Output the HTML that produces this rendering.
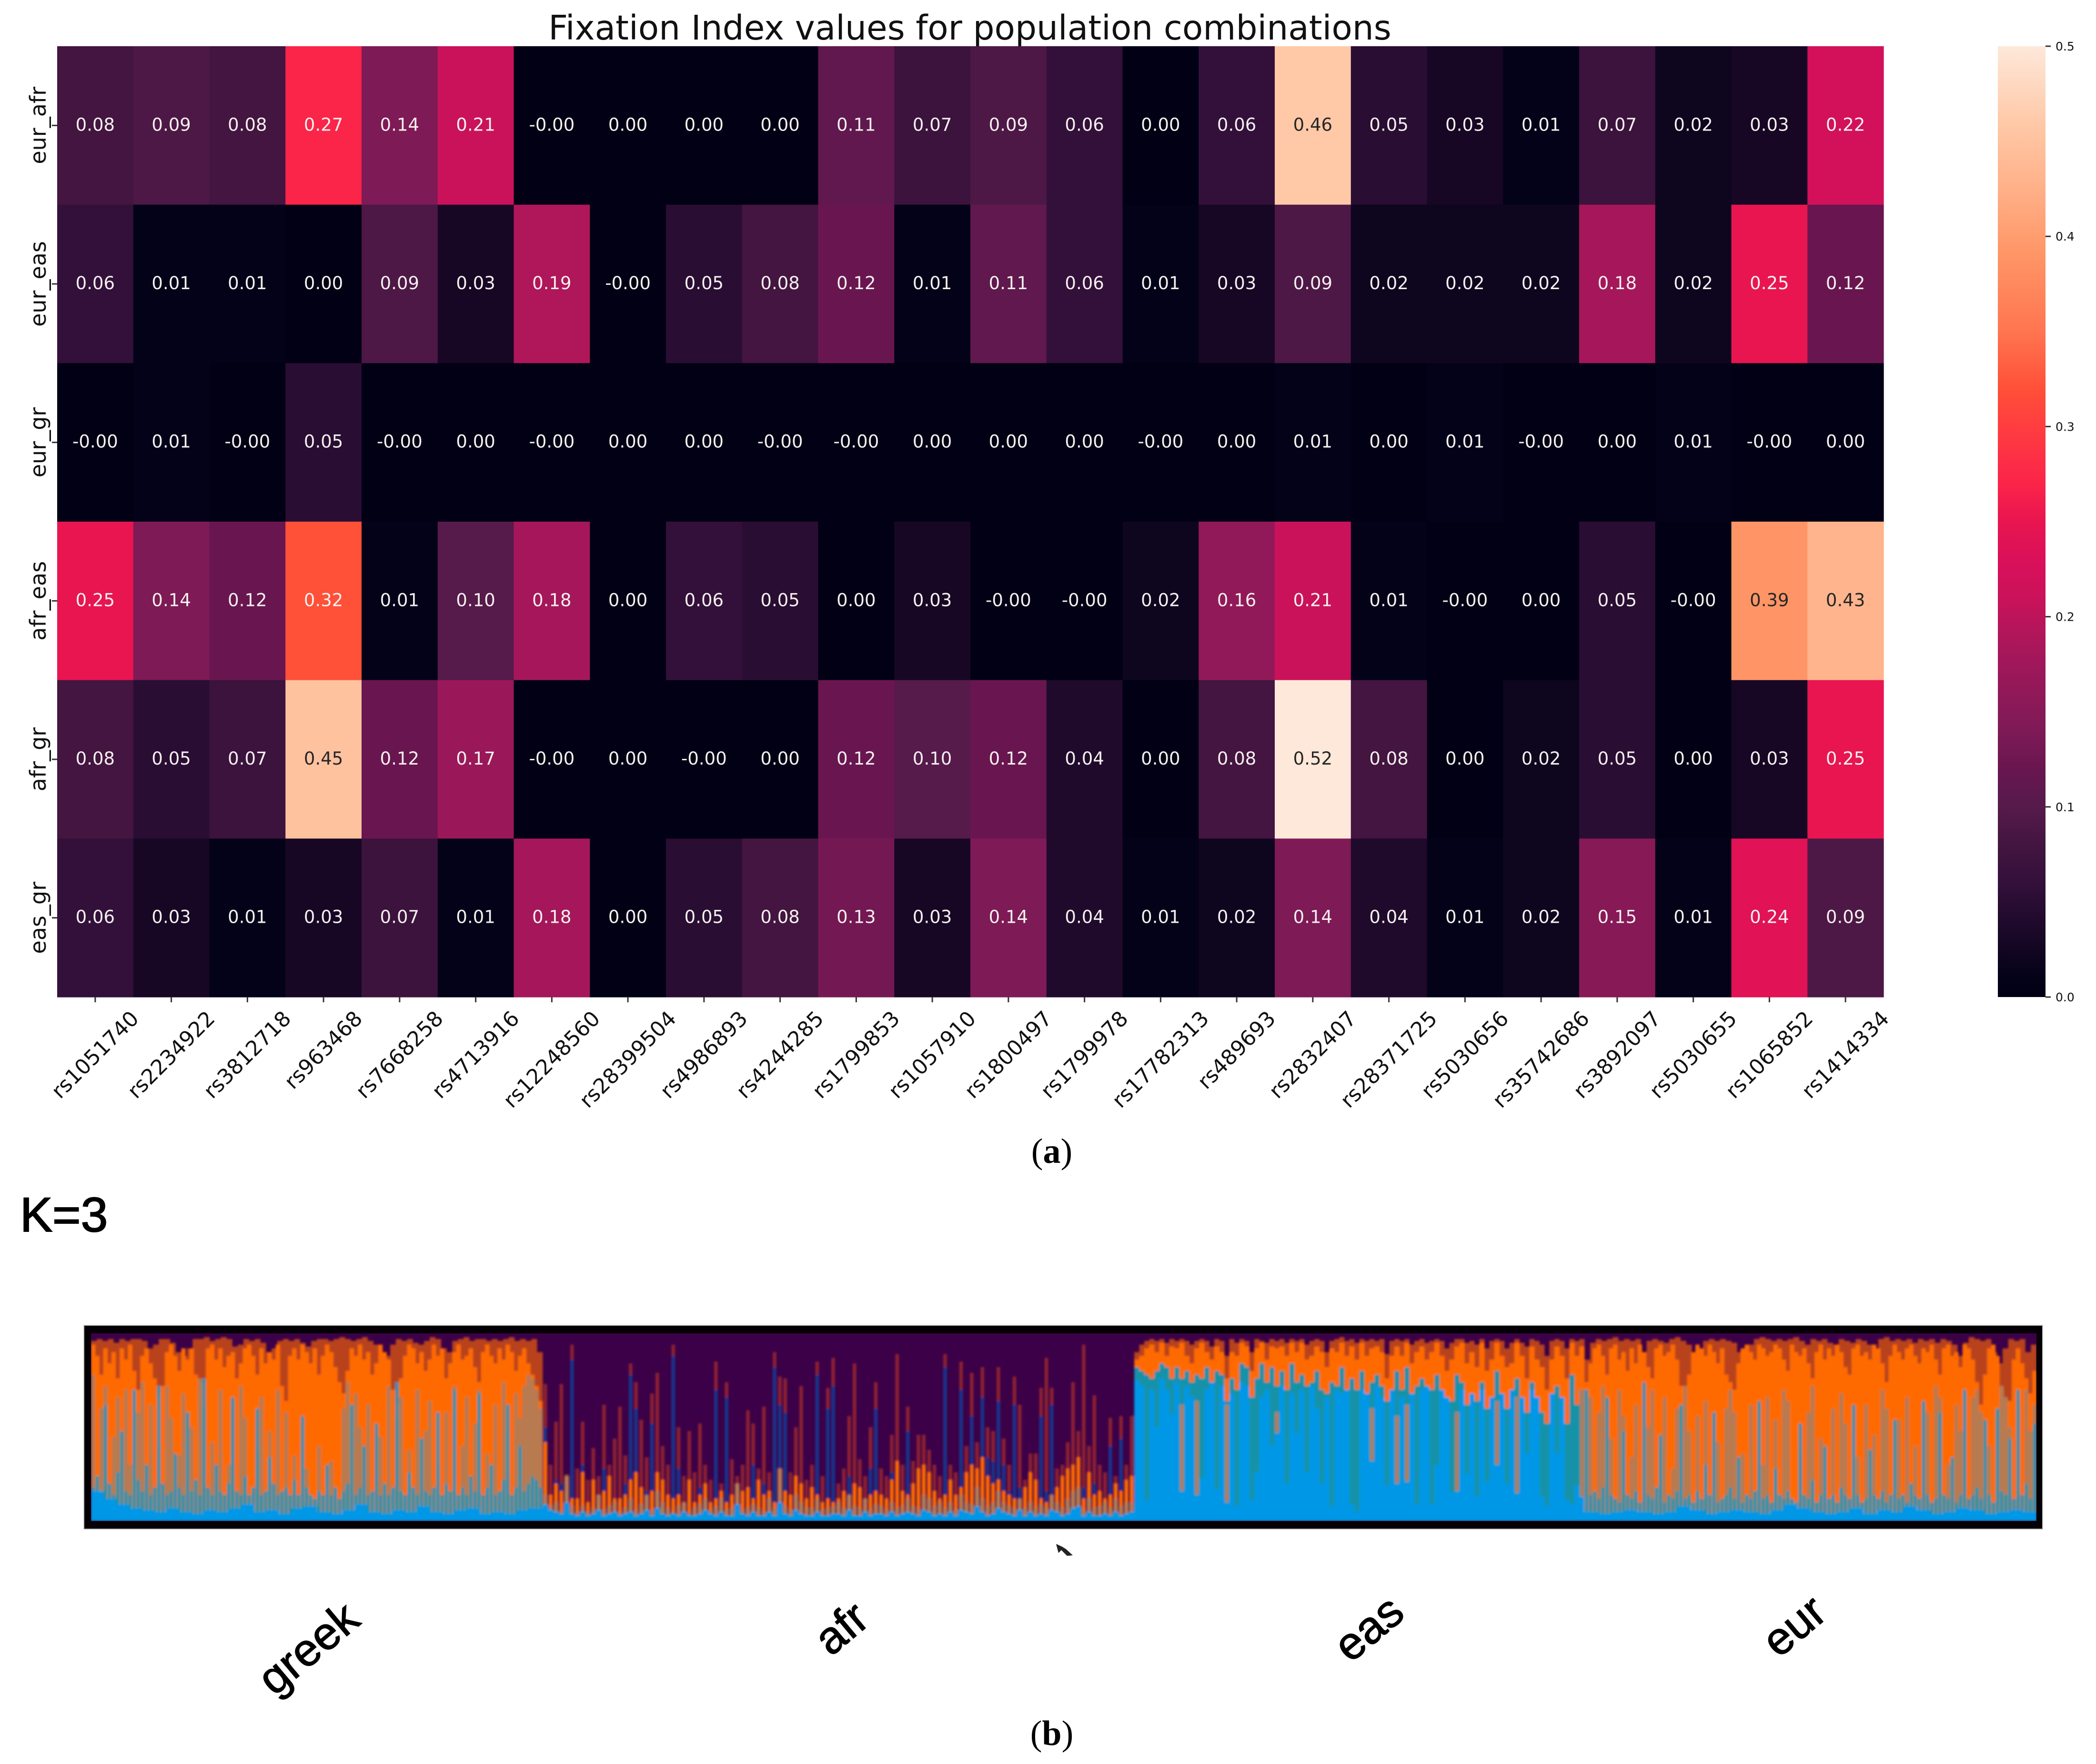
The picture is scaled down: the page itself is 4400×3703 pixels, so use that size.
<!DOCTYPE html>
<html lang="en">
<head>
<meta charset="utf-8">
<title>Fixation Index heatmap and K=3 structure plot</title>
<style>
html,body{margin:0;padding:0;background:#fff;}
svg{display:block;}
text{font-family:"DejaVu Sans",sans-serif;}
</style>
</head>
<body>
<svg id="figure" xmlns="http://www.w3.org/2000/svg" width="4400" height="3703" viewBox="0 0 4400 3703">
  <rect x="0" y="0" width="4400" height="3703" fill="#fff"/>
  <defs>
    <filter id="soft" filterUnits="userSpaceOnUse" x="150" y="2760" width="4170" height="470">
      <feGaussianBlur stdDeviation="2"/>
    </filter>
    <clipPath id="structure-clip"><rect x="191" y="2799" width="4084" height="394"/></clipPath>
    <linearGradient id="cbar-gradient" x1="0" y1="1" x2="0" y2="0"></linearGradient>
  </defs>
  <text x="2036" y="83" font-size="71" text-anchor="middle" fill="#111">Fixation Index values for population combinations</text>
  <g id="heatmap"></g>
  <g id="xaxis"></g>
  <g id="yaxis"></g>
  <g id="colorbar"></g>
  <text x="2208" y="2441" font-size="74" text-anchor="middle" fill="#000" style="font-family:'Liberation Serif',serif">(<tspan font-weight="bold">a</tspan>)</text>
  <text x="42" y="2585" font-size="102" fill="#000" stroke="#000" stroke-width="2" style="font-family:'Liberation Sans',sans-serif">K=3</text>
  <rect x="175" y="2781" width="4114" height="430" fill="#c8c8c8"/>
  <rect x="177" y="2783" width="4110" height="426" fill="#050005"/>
  <rect x="191" y="2799" width="4084" height="394" fill="#3b0048"/>
  <g clip-path="url(#structure-clip)">
    <g id="structure" filter="url(#soft)"></g>
  </g>
  <polygon points="2217,3241 2222,3260 2228,3254 2240,3266 2252,3265 2238,3252 2230,3247" fill="#222"/>
  <g id="poplabels"></g>
  <text x="2208" y="3663" font-size="74" text-anchor="middle" fill="#000" style="font-family:'Liberation Serif',serif">(<tspan font-weight="bold">b</tspan>)</text>
</svg>
<script>
// ---------- heatmap data ----------
const snps = ["rs1051740","rs2234922","rs3812718","rs963468","rs7668258","rs4713916","rs12248560","rs28399504","rs4986893","rs4244285","rs1799853","rs1057910","rs1800497","rs1799978","rs17782313","rs489693","rs2832407","rs28371725","rs5030656","rs35742686","rs3892097","rs5030655","rs1065852","rs1414334"];
const pairs = ["eur_afr","eur_eas","eur_gr","afr_eas","afr_gr","eas_gr"];
const eurAfr = [0.08,0.09,0.08,0.27,0.14,0.21,-0.001,0.001,0.001,0.001,0.11,0.07,0.09,0.06,0.001,0.06,0.46,0.05,0.03,0.01,0.07,0.02,0.03,0.22];
const eurEas = [0.06,0.01,0.01,0.001,0.09,0.03,0.19,-0.001,0.05,0.08,0.12,0.01,0.11,0.06,0.01,0.03,0.09,0.02,0.02,0.02,0.18,0.02,0.25,0.12];
const eurGr = [-0.001,0.01,-0.001,0.05,-0.001,0.001,-0.001,0.001,0.001,-0.001,-0.001,0.001,0.001,0.001,-0.001,0.001,0.01,0.001,0.01,-0.001,0.001,0.01,-0.001,0.001];
const afrEas = [0.25,0.14,0.12,0.32,0.01,0.10,0.18,0.001,0.06,0.05,0.001,0.03,-0.001,-0.001,0.02,0.16,0.21,0.01,-0.001,0.001,0.05,-0.001,0.39,0.43];
const afrGr = [0.08,0.05,0.07,0.45,0.12,0.17,-0.001,0.001,-0.001,0.001,0.12,0.10,0.12,0.04,0.001,0.08,0.52,0.08,0.001,0.02,0.05,0.001,0.03,0.25];
const easGr = [0.06,0.03,0.01,0.03,0.07,0.01,0.18,0.001,0.05,0.08,0.13,0.03,0.14,0.04,0.01,0.02,0.14,0.04,0.01,0.02,0.15,0.01,0.24,0.09];
const cbarTicks = [0,0.1,0.2,0.3,0.4,0.5];

// ---------- structure plot data: top of each layer, % of plot height ----------
const populations = ["greek","afr","eas","eur"];
const greekShade = [96,97,96,97,95,97,96,97,97,96,92,94,97,97,95,90,88,92,97,97,98,96,97,98,97,93,94,97,96,97,95,90,92,96,97,96,97,95,93,96,97,97,96,97,98,97,96,97,98,96,94,90,88,94,97,96,97,95,94,96,98,97,92,90,96,97,98,96,97,97,96,97,96,97,98,96,97,96,97,90];
const greekOrange = [94,88,78,92,84,90,76,92,86,94,80,70,88,92,84,76,68,72,90,94,88,80,92,86,92,78,70,74,92,94,86,92,82,88,90,76,84,92,94,88,78,92,84,90,86,94,72,64,88,92,86,94,90,84,92,78,88,94,90,82,74,68,80,92,88,94,86,90,78,84,94,90,86,70,62,76,88,94,92,84,90,80,86,94,88,92,76,84,90,94,86,88,92,82,74,90,94,88,84,92,86,94,90,80,88,92,84,78,72,64];
const greekTan = [78,0,60,72,0,45,66,0,70,30,0,58,74,0,62,0,40,0,72,55,0,35,68,0,50,0,76,62,0,42,0,70,0,30,64,0,72,55,0,0,38,66,0,48,0,70,0,58,0,35,0,0,28,0,0,40,0,0,32,0,0,60,74,0,68,50,0,62,0,0,45,0,72,0,55,66,0,38,0,70,0,48,64,0,30,0,58,0,72,0,40,66,0,52,70,0,36,0,62,0,74,48,0,68,55,72,78,76,70,60];
const greekTeal = [18,24,16,62,20,14,26,48,16,14,70,22,16,30,14,18,72,20,14,16,36,18,14,58,16,22,14,76,18,14,30,16,14,20,66,16,14,24,14,18,60,14,16,34,20,14,16,18,14,22,14,56,18,14,12,16,14,30,14,18,12,16,20,62,14,18,40,14,16,52,14,20,14,18,74,16,14,26,18,14,44,16,14,18,58,14,20,16,70,14,18,14,24,16,68,14,18,30,14,16,22,62,14,18,40,16,20,24,22,18];
const greekBlue = [16,12,9,7,6,5,7,5,4,6,5,7,9,5,6,4,7,8,5,4,6,9,5,4,6,5,8,5,4,6,7,4,5,4,6,7];
const afrShade = [73,30,53,73,25,94,28,53,22,39,24,62,30,44,61,35,84,74,54,34,68,79,40,30,94,50,24,48,26,52,30,22,85,20,74,33,24,30,59,52,28,61,26,90,77,76,26,50,72,22,30,85,24,71,87,20,28,56,84,33,24,50,74,28,24,46,89,30,61,32,46,46,38,30,24,89,30,26,85,40,79,42,82,50,48,82,44,30,77,62,22,36,36,71,87,71,28,30,42,74,48,94,40,67,30,26,55,24,56,30,56];
const afrNavy = [50,10,22,20,8,86,10,30,6,14,8,28,14,10,12,20,78,60,12,16,52,14,14,12,88,28,8,14,10,18,12,8,70,10,66,12,8,12,14,30,12,20,10,82,62,58,10,16,20,8,14,78,10,60,72,8,10,24,12,10,12,28,60,8,12,26,18,14,48,16,14,12,18,8,10,82,14,12,70,20,56,22,66,34,32,64,30,16,62,18,10,14,16,56,16,62,12,14,22,20,30,18,22,20,14,12,40,12,44,16,18];
const afrOrange = [42,14,20,16,10,12,12,26,10,22,12,16,24,12,12,14,22,26,18,12,16,26,22,14,12,14,10,22,10,14,20,10,12,16,10,14,12,16,18,12,22,14,16,10,12,16,14,24,20,12,18,14,10,12,10,12,16,14,20,18,10,14,16,14,12,22,32,16,14,20,28,30,26,16,12,14,22,14,18,26,30,28,34,24,20,22,16,14,12,10,18,26,22,12,10,12,18,24,28,30,34,12,26,14,16,12,14,20,16,22,24];
const afrBlue = [9,6,5,4,10,4,3,5,3,4,6,3,4,5,3,4,5,3,4,6,3,7,4,3,4,3,5,3,3,4,6,4,3,5,3,3,9,4,3,5,3,3,5,3,10,4,3,6,4,3,3,5,3,3,4,4,3,6,3,3,5,3,4,4,3,5,3,4,5,4,3,6,5,3,4,3,5,3,6,5,4,8,5,3,4,7,5,4,3,6,3,5,3,4,3,6,5,3,4,7,8,3,5,3,3,4,3,5,3,4,5];
const afrTeal = [14,8,10,6,24,8,5,8,5,7,14,6,8,10,5,7,12,6,9,14,6,16,10,7,5,8,10,5,7,9,12,6,8,12,6,7,20,6,7,9,7,5,12,7,28,8,6,14,10,7,7,12,6,7,8,10,7,14,8,7,12,6,9,8,6,10,7,8,12,8,7,14,12,8,10,7,10,6,14,10,9,18,12,8,10,16,10,8,7,12,7,10,7,9,7,14,10,7,12,16,18,6,12,7,8,10,7,12,8,10,10];
const easShade = [90,94,96,97,96,97,95,97,96,97,96,94,96,97,96,93,97,96,88,97,95,97,96,90,97,96,95,97,96,97,95,97,96,97,94,96,97,96,90,96,97,98,96,97,95,97,96,97,96,97,89,96,97,96,97,94,96,97,95,96,97,96,92,95,97,97,95,96,94,97,92,96,97,96,92,95,97,95,93,97,96,94,88,96,97,96,92,97,96,97];
const easOrange = [86,88,92,94,90,95,88,93,92,95,88,84,92,95,90,86,93,90,76,90,88,95,93,80,92,95,86,93,92,93,88,95,90,95,86,88,93,90,82,92,90,95,88,93,86,95,88,92,93,90,76,88,93,88,95,84,90,93,86,90,95,88,80,86,93,95,84,90,82,95,80,86,95,88,82,84,95,88,76,93,86,82,70,86,93,88,76,95,88,93];
const easTeal = [82,80,78,76,80,84,82,76,82,76,80,74,78,76,82,74,80,78,64,76,70,84,82,66,76,84,74,82,72,80,70,84,74,78,72,74,80,70,68,74,72,82,68,76,70,80,68,74,78,72,64,68,80,70,82,64,72,76,68,70,78,66,62,64,78,74,62,68,64,74,60,66,80,64,60,66,76,62,58,74,60,58,52,64,72,60,52,78,62,70];
const easTan = [0,0,0,0,0,0,0,0,0,62,0,0,64,0,0,0,0,70,62,0,0,0,66,0,0,0,0,0,58,0,0,0,0,0,0,0,0,0,0,0,0,0,0,0,0,0,0,60,0,0,0,0,56,0,62,0,0,0,0,0,0,0,0,0,58,0,0,0,0,0,0,0,64,0,0,0,66,0,0,0,0,0,0,0,0,60,0,0,0,70];
const easBlue = [75,72,11,70,50,76,70,57,74,16,72,66,14,23,70,74,17,72,10,68,8,74,72,11,26,66,70,40,47,72,20,68,47,70,26,72,60,20,66,8,70,68,70,9,5,70,68,32,72,66,19,70,20,66,21,68,9,70,72,9,30,70,66,15,16,70,25,68,13,70,21,66,30,68,20,70,15,66,36,70,66,13,8,68,36,66,11,9,19,13];
const eurShade = [86,95,97,96,97,98,96,97,96,97,90,96,97,96,95,97,98,96,94,85,92,96,97,96,97,96,95,90,88,94,97,98,97,96,97,96,97,98,96,94,97,96,97,95,94,97,96,95,97,96,94,92,97,98,96,97,96,97,95,97,96,97,95,97,96,94,88,95,98,97,96,97,90,84,92,97,96,97,90,94];
const eurOrange = [74,84,92,94,88,78,92,94,86,90,80,92,84,94,90,82,76,92,94,88,90,94,86,72,66,78,90,94,92,88,94,90,84,92,78,74,70,84,92,94,90,86,94,92,88,90,94,92,86,80,94,90,88,92,84,76,90,94,86,92,88,94,90,82,78,92,94,88,90,86,94,92,84,74,88,94,90,86,92,94,88,84,92,90,94,86,78,92,94,88,90,82,94,92,86,74,62,78,92,94,88,70,56,64,86,92,84,76,68,80];
const eurTan = [0,66,0,58,72,0,44,0,70,56,0,34,62,0,0,50,70,0,40,66,0,28,60,0,72,48,0,56,0,64,0,0,42,0,60,70,58,0,36,0,62,0,0,30,66,0,54,0,70,64,0,0,38,0,58,72,0,44,0,0,60,0,68,52,0,0,34,0,62,0,46,0,70,60,0,0,54,0,66,0,40,0,0,58,0,72,66,0,30,0,62,48,0,0,66,70,58,0,40,0,60,72,66,50,0,62,0,70,48,62];
const eurTeal = [70,14,16,12,18,66,14,12,10,48,14,12,16,10,74,14,12,18,46,10,14,12,16,62,12,14,10,16,12,30,14,58,10,12,14,18,12,34,10,14,12,16,64,12,14,10,28,14,12,16,12,10,52,14,12,22,10,14,40,12,14,10,18,14,12,62,14,10,12,38,14,12,16,10,14,54,12,14,10,20,14,12,64,14,10,12,58,14,12,34,10,14,70,12,14,18,12,54,14,10,60,16,14,44,12,70,14,20,12,52];
const eurBlue = [5,4,5,6,5,4,5,8,6,4,5,6,5,4,6,9,7,5,4,5,7,4,6,5,8,6,4,5,7,6,4,5,6,5];

// ---------- rocket colour scale stops ----------
const rocketStops = [0,0.01,0.03,0.06,0.08,0.10,0.12,0.14,0.17,0.19,0.21,0.23,0.25,0.27,0.30,0.32,0.35,0.39,0.43,0.46,0.50];
const rocketColors = ["#020014","#040218","#170725","#33103a","#431540","#561a4b","#691650","#7e1a56","#9a185a","#b0165a","#ca125a","#da105a","#e81550","#fb2449","#ff3d40","#ff5038","#ff7550","#ff9566","#ffb48d","#ffc9a8","#fde8da"];

const NS = "http://www.w3.org/2000/svg";
function make(tag, attrs, parent) {
  const node = document.createElementNS(NS, tag);
  for (const key in attrs) node.setAttribute(key, attrs[key]);
  parent.appendChild(node);
  return node;
}
function hexRgb(h) { return [1,3,5].map(i => parseInt(h.substr(i,2),16)); }
function colorScale(v) {
  const c = Math.max(0, Math.min(0.5, v));
  for (let i = 1; i < rocketStops.length; i++) {
    if (c <= rocketStops[i]) {
      const f = (c - rocketStops[i-1]) / (rocketStops[i] - rocketStops[i-1]);
      const a = hexRgb(rocketColors[i-1]), b = hexRgb(rocketColors[i]);
      return "rgb(" + a.map((x,k) => Math.round(x + (b[k]-x)*f)).join(",") + ")";
    }
  }
  return rocketColors[rocketColors.length-1];
}

// ---------- axis functions ----------
const hmLeft = 120, hmRight = 3954, hmTop = 97, hmBottom = 2093;
const cellW = (hmRight - hmLeft) / snps.length;
const cellH = (hmBottom - hmTop) / pairs.length;
const xCell = i => hmLeft + i * cellW;
const yCell = j => hmTop + j * cellH;
const cbarY = v => hmBottom - (v / 0.5) * (hmBottom - hmTop);

// ---------- heatmap ----------
const matrix = [eurAfr, eurEas, eurGr, afrEas, afrGr, easGr];
const hm = document.getElementById("heatmap");
matrix.forEach((row, j) => {
  row.forEach((v, i) => {
    const rect = make("rect", {x: xCell(i), y: yCell(j), width: cellW + 0.6, height: cellH + 0.6, fill: colorScale(v)}, hm);
    
    
  });
});
matrix.forEach((row, j) => {
  row.forEach((v, i) => {
    const label = make("text", {x: xCell(i) + cellW/2, y: yCell(j) + cellH/2 + 11, "font-size": 37, "text-anchor": "middle", fill: v >= 0.36 ? "#262626" : "#f4f0ee"}, hm);
    
    
    label.textContent = v.toFixed(2);
  });
});

// ---------- x axis ----------
const xa = document.getElementById("xaxis");
snps.forEach((name, i) => {
  const cx = xCell(i) + cellW/2;
  const tick = make("line", {x1: cx, x2: cx, y1: hmBottom, y2: hmBottom + 11, stroke: "#333", "stroke-width": 3}, xa);
  
  
  const label = make("text", {x: cx, y: 2200, "font-size": 44, "text-anchor": "middle", "dominant-baseline": "central", fill: "#111"}, xa);
  
  
  label.textContent = name;
  const L = label.getComputedTextLength();
  const cy = 2119 + (L + 33) * 0.7071 / 2;
  label.setAttribute("y", cy);
  label.setAttribute("transform", "rotate(-45 " + cx + " " + cy + ")");
});

// ---------- y axis ----------
const ya = document.getElementById("yaxis");
pairs.forEach((name, j) => {
  const cy = yCell(j) + cellH/2;
  const tick = make("line", {x1: hmLeft - 11, x2: hmLeft, y1: cy, y2: cy, stroke: "#333", "stroke-width": 3}, ya);
  
  
  const label = make("text", {x: 96, y: cy, "font-size": 46, "text-anchor": "middle", fill: "#111", transform: "rotate(-90 96 " + cy + ")"}, ya);
  
  
  label.textContent = name;
});

// ---------- colour bar ----------
const grad = document.getElementById("cbar-gradient");
rocketStops.forEach((s, k) => {
  make("stop", {offset: (s / 0.5), "stop-color": rocketColors[k]}, grad);
});
const cb = document.getElementById("colorbar");
const bar = make("rect", {x: 4194, y: hmTop, width: 100, height: hmBottom - hmTop, fill: "url(#cbar-gradient)"}, cb);


cbarTicks.forEach(v => {
  const y = cbarY(v);
  const tick = make("line", {x1: 4294, x2: 4305, y1: y, y2: y, stroke: "#333", "stroke-width": 3}, cb);
  
  
  const label = make("text", {x: 4315, y: y + 9, "font-size": 25, fill: "#111"}, cb);
  
  
  label.textContent = v.toFixed(1);
});

// ---------- structure plot ----------
const stBottom = 3193, stHeight = 394;
const stY = p => stBottom - (p / 100) * stHeight;
const popEdges = [191, 1139, 2381, 3326, 4275];
const layerColors = {shade: "#b8421a", spike: "#8f2430", navy: "#15358c", orange: "#ff6a00", tan: "#b47c52", teal: "#1392a8", blue: "#0098e6"};
const st = document.getElementById("structure");
function drawLayer(series, popIndex, layer, widthFactor) {
  const x0 = popEdges[popIndex], x1 = popEdges[popIndex + 1];
  const step = (x1 - x0) / series.length;
  series.forEach((p, i) => {
    if (p <= 0) return;
    const w = step * widthFactor;
    const rect = make("rect", {x: x0 + i * step + (step - w)/2, y: stY(p), width: w + 0.4, height: stBottom - stY(p), fill: layerColors[layer]}, st);
    
    
  });
}
drawLayer(greekShade, 0, "shade", 1);
drawLayer(greekOrange, 0, "orange", 1);
drawLayer(greekTan, 0, "tan", 0.9);
drawLayer(greekTeal, 0, "teal", 0.8);
drawLayer(greekBlue, 0, "blue", 1);
drawLayer(afrShade, 1, "spike", 0.62);
drawLayer(afrNavy, 1, "navy", 0.62);
drawLayer(afrOrange, 1, "orange", 0.7);
drawLayer(afrTeal, 1, "tan", 0.8);
drawLayer(afrBlue, 1, "blue", 1);
drawLayer(easShade, 2, "shade", 1);
drawLayer(easOrange, 2, "orange", 1);
drawLayer(easTeal, 2, "teal", 1);
drawLayer(easTan, 2, "tan", 0.7);
drawLayer(easBlue, 2, "blue", 1);
drawLayer(eurShade, 3, "shade", 1);
drawLayer(eurOrange, 3, "orange", 1);
drawLayer(eurTan, 3, "tan", 0.9);
drawLayer(eurTeal, 3, "teal", 0.8);
drawLayer(eurBlue, 3, "blue", 1);

// ---------- population labels ----------
const popCentersX = [647, 1766, 2873, 3766];
const popCentersY = [3460, 3418, 3418, 3413];
const pl = document.getElementById("poplabels");
populations.forEach((name, i) => {
  const cx = popCentersX[i], cy = popCentersY[i];
  const label = make("text", {x: cx, y: cy, "font-size": 96, "text-anchor": "middle", "dominant-baseline": "central", fill: "#000", stroke: "#000", "stroke-width": 1.5, transform: "rotate(-40 " + cx + " " + cy + ")", style: "font-family:'Liberation Sans',sans-serif"}, pl);
  
  
  label.textContent = name;
});
</script>
</body>
</html>
